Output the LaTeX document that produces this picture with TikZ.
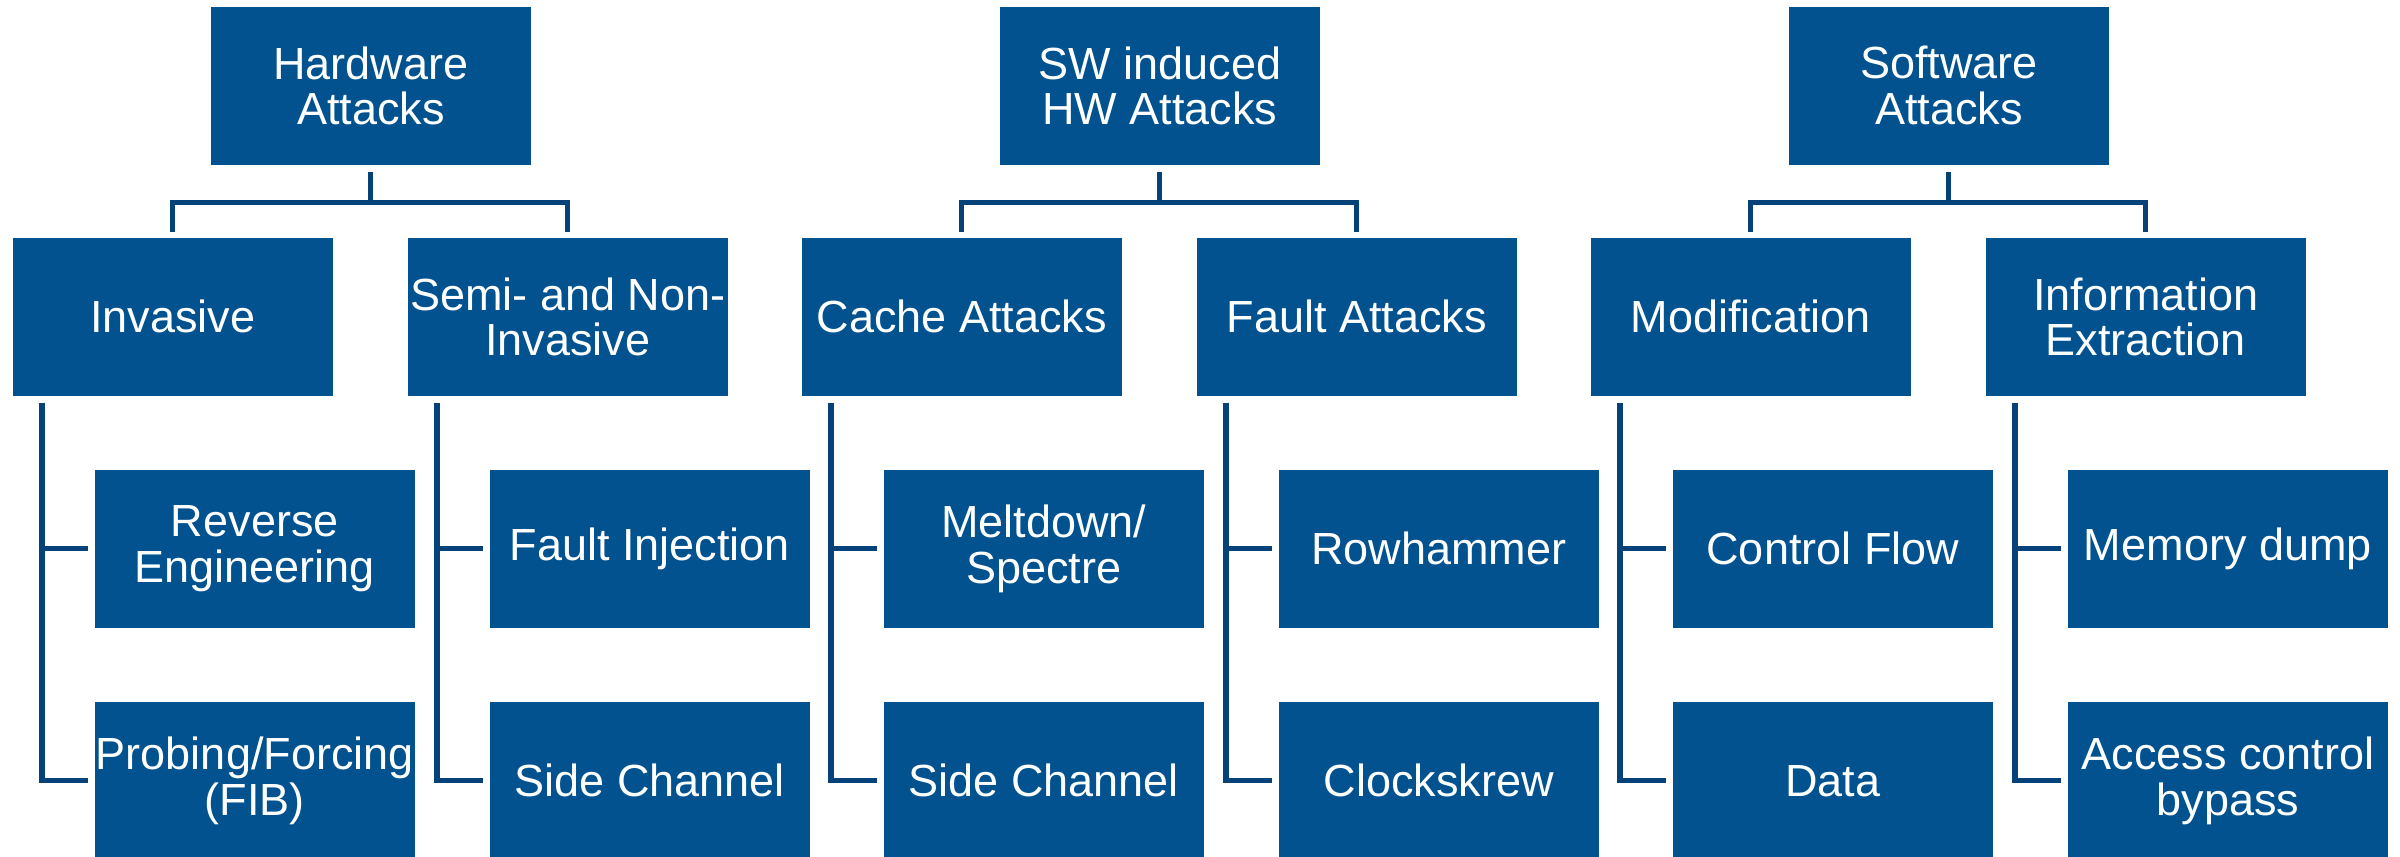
\documentclass[tikz,border=0pt]{standalone}
\usepackage{fontspec}
\setmainfont{Liberation Sans}
\usetikzlibrary{calc}
\definecolor{boxblue}{RGB}{2,82,144}
\definecolor{linkblue}{RGB}{6,66,122}
\tikzset{
  attackbox/.style={rectangle, anchor=north west, fill=boxblue, text=white,
    minimum width=3.2cm, minimum height=1.58cm, inner sep=0pt, align=center,
    font=\fontsize{12.8}{13}\selectfont},
  conn/.style={draw=linkblue, line width=1.5pt}
}
\begin{document}
\begin{tikzpicture}[x=0.01cm, y=-0.01cm]
\useasboundingbox (0,0) rectangle (2400,856);
\clip (0,0) rectangle (2400,856);

% top row
\node[attackbox] (h1) at (210,6)  {Hardware\\Attacks};
\node[attackbox] (h2) at (999,6)  {SW induced\\HW Attacks};
\node[attackbox] (h3) at (1788,6) {Software\\Attacks};

% second row
\node[attackbox] (a1) at (12,237)   {Invasive};
\node[attackbox] (a2) at (407,237)  {Semi- and Non-\\Invasive};
\node[attackbox] (a3) at (801,237)  {Cache Attacks};
\node[attackbox] (a4) at (1196,237) {Fault Attacks};
\node[attackbox] (a5) at (1590,237) {Modification};
\node[attackbox] (a6) at (1985,237) {Information\\Extraction};

% third row
\node[attackbox] (b1) at (94,469)   {Reverse\\Engineering};
\node[attackbox] (b2) at (489,469)  {Fault Injection};
\node[attackbox] (b3) at (883,469)  {Meltdown/\\Spectre};
\node[attackbox] (b4) at (1278,469) {Rowhammer};
\node[attackbox] (b5) at (1672,469) {Control Flow};
\node[attackbox] (b6) at (2067,469) {Memory dump};

% fourth row
\node[attackbox] (c1) at (94,701)   {Probing/Forcing\\(FIB)};
\node[attackbox] (c2) at (489,701)  {Side Channel};
\node[attackbox] (c3) at (883,701)  {Side Channel};
\node[attackbox] (c4) at (1278,701) {Clockskrew};
\node[attackbox] (c5) at (1672,701) {Data};
\node[attackbox] (c6) at (2067,701) {Access control\\bypass};

% brackets from each category to its two subgroups
\foreach \p/\l/\r in {h1/a1/a2, h2/a3/a4, h3/a5/a6} {
  \draw[conn] ($(\p.south)+(0,6)$) -- ($(\p.south)+(0,37)$);
  \draw[conn] ($(\l.north)+(0,-5)$) |- ($(\p.south)+(0,37)$) -| ($(\r.north)+(0,-5)$);
}

% side rails from each subgroup to its two examples
\foreach \a/\b/\c in {a1/b1/c1, a2/b2/c2, a3/b3/c3, a4/b4/c4, a5/b5/c5, a6/b6/c6} {
  \coordinate (top-\a) at ($(\a.south west)+(30,6)$);
  \draw[conn] (top-\a) |- ($(\c.west)+(-6,0)$);
  \draw[conn] (top-\a |- \b.west) -- ($(\b.west)+(-6,0)$);
}
\end{tikzpicture}
\end{document}
